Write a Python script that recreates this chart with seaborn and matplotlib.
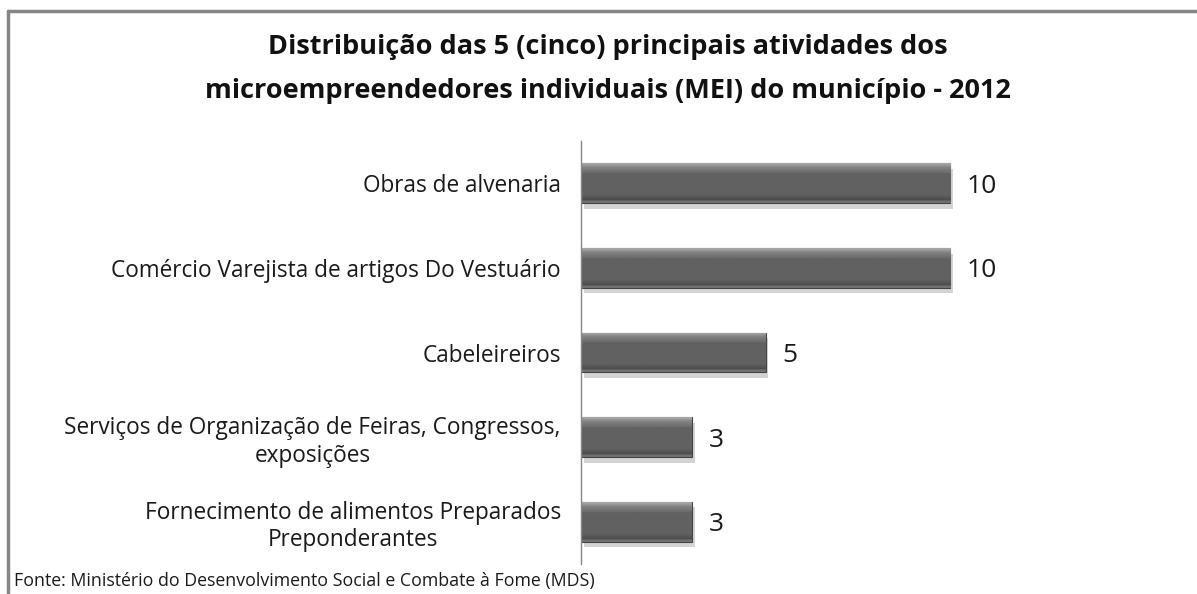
import matplotlib.pyplot as plt
import matplotlib.patheffects as pe
import numpy as np
import pandas as pd
import seaborn as sns

atividades = [
    "Obras de alvenaria",
    "Comércio Varejista de artigos Do Vestuário",
    "Cabeleireiros",
    "Serviços de Organização de Feiras, Congressos,\nexposições",
    "Fornecimento de alimentos Preparados\nPreponderantes",
]
quantidade = [10, 10, 5, 3, 3]

titulo = ("Distribuição das 5 (cinco) principais atividades dos\n"
          "microempreendedores individuais (MEI) do município - 2012")
fonte = "Fonte: Ministério do Desenvolvimento Social e Combate à Fome (MDS)"

df = pd.DataFrame({"atividade": atividades, "qtd": quantidade})

sns.set_style("white")
plt.rcParams["font.family"] = ["Open Sans", "DejaVu Sans"]

fig = plt.figure(figsize=(11.97, 5.94), dpi=100)
ax = fig.add_axes([581 / 1197, 1 - 564 / 594, 443 / 1197, 423 / 594])

sns.barplot(data=df, y="atividade", x="qtd", orient="h", color="#5b5b5b",
            width=0.47, edgecolor="#444444", linewidth=0.8, saturation=1, ax=ax)

# vertical shading to mimic the bevelled bars
tons = np.concatenate([
    np.linspace(0.66, 0.58, 4),
    np.linspace(0.52, 0.42, 8),
    np.full(26, 0.38),
    np.linspace(0.36, 0.30, 6),
    np.full(3, 0.44),
])
grad = np.repeat(tons[:, None], 2, axis=1)
for bar in ax.patches:
    bar.set_path_effects([pe.SimplePatchShadow(offset=(2, -4), shadow_rgbFace="#a8a8a8", alpha=0.5),
                          pe.Normal()])
    x0, y0 = bar.get_x(), bar.get_y()
    w, h = bar.get_width(), bar.get_height()
    im = ax.imshow(grad, cmap="gray", vmin=0, vmax=1, aspect="auto",
                   extent=(x0, x0 + w, y0 + h, y0), interpolation="bilinear", zorder=2.5)
    im.set_clip_path(bar)

for i, v in enumerate(quantidade):
    ax.text(v + 0.45, i, str(v), va="center_baseline", ha="left", fontsize=19, color="#1a1a1a")

ax.set_xlim(0, 12)
ax.set_ylim(4.5, -0.5)
ax.set_xlabel("")
ax.set_ylabel("")
ax.set_xticks([])
ax.tick_params(axis="y", which="major", length=0, pad=14.5, labelsize=16.3, labelcolor="#1a1a1a")
ax.set_yticks(np.arange(-0.5, 5, 1), minor=True)
ax.tick_params(axis="y", which="minor", length=6, width=1, color="#888888", direction="out")
for lab in ax.get_yticklabels():
    lab.set_horizontalalignment("right")
    lab.set_multialignment("center")
    lab.set_linespacing(1.2)

for s in ["top", "right", "bottom"]:
    ax.spines[s].set_visible(False)
ax.spines["left"].set_color("#888888")
ax.spines["left"].set_linewidth(1)

fig.text(608 / 1197, 1 - 69 / 594, titulo, ha="center", va="center", fontsize=19.5,
         fontweight="bold", color="#111111", linespacing=1.85)
fig.text(14 / 1197, 1 - 581 / 594, fonte, ha="left", va="center", fontsize=12.8,
         color="#1a1a1a")

# outer frame (top and left visible)
fig.add_artist(plt.Line2D([7.5 / 1197, 1], [1 - 10.5 / 594, 1 - 10.5 / 594],
                          color="#868686", lw=2.5, transform=fig.transFigure))
fig.add_artist(plt.Line2D([7.5 / 1197, 7.5 / 1197], [0, 1 - 10.5 / 594],
                          color="#868686", lw=2.5, transform=fig.transFigure))

fig.savefig("out.png", dpi=100, facecolor="white")
